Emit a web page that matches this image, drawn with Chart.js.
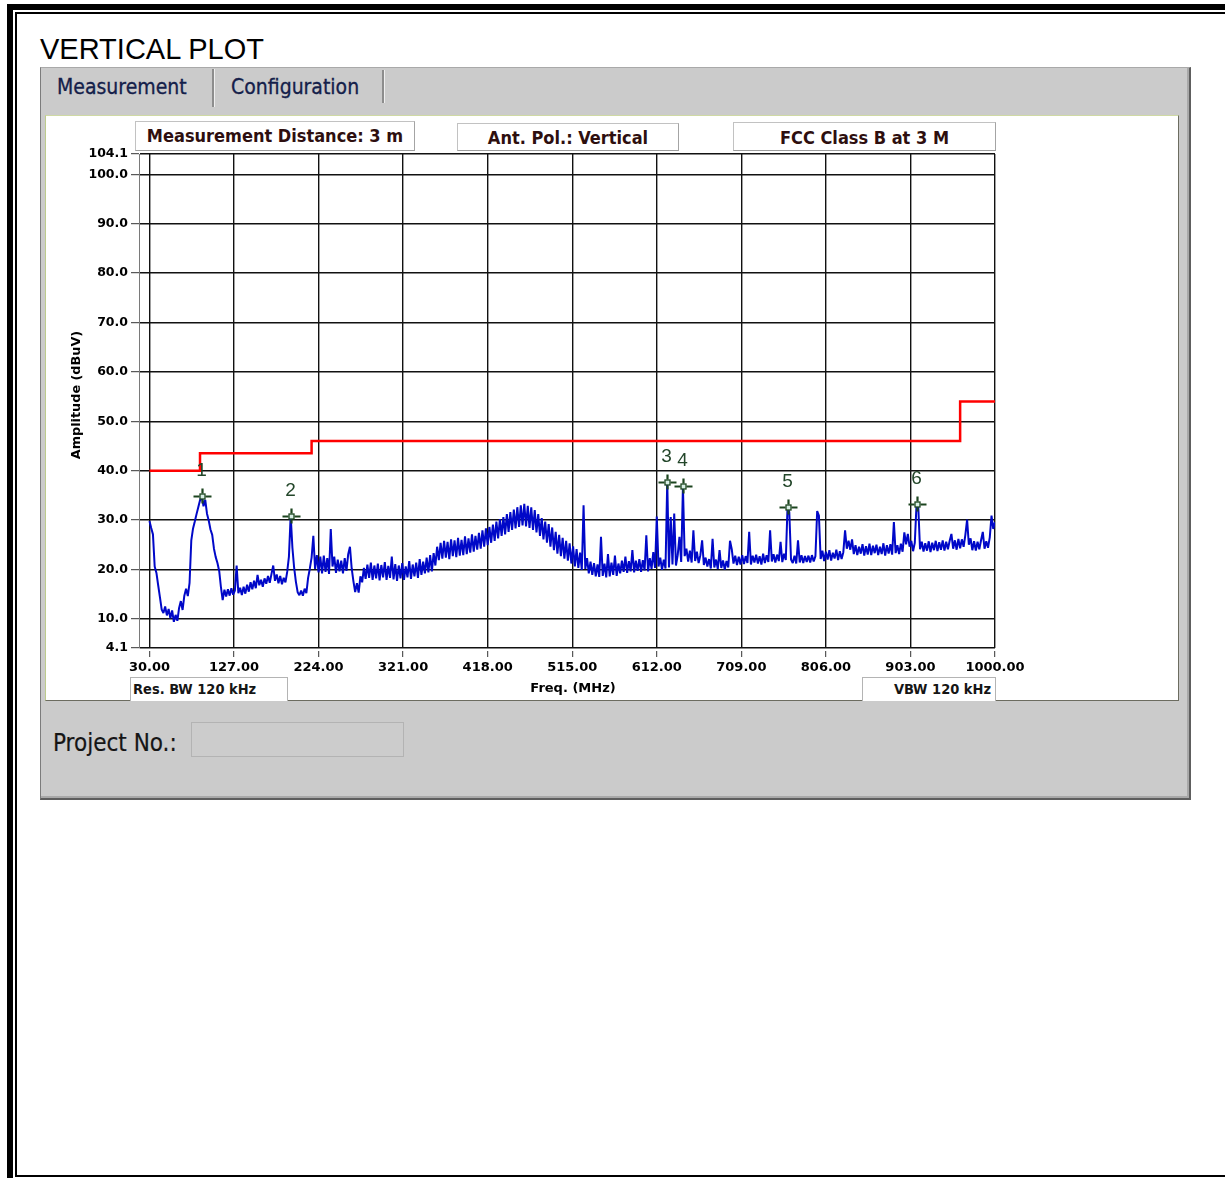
<!DOCTYPE html>
<html>
<head>
<meta charset="utf-8">
<title>VERTICAL PLOT</title>
<script src="https://cdn.jsdelivr.net/npm/chart.js@4.4.1/dist/chart.umd.min.js"></script>
<style>
  html, body { margin: 0; padding: 0; background: #ffffff; }
  body { width: 1225px; height: 1178px; position: relative; overflow: hidden; font-family: "DejaVu Sans", sans-serif; }
  .abs { position: absolute; box-sizing: border-box; }
  .frame { background: #000; }
  #title { left: 40px; top: 35px; font: 29px/29px "Liberation Sans", Arial, sans-serif; color: #000; white-space: nowrap; }
  #panel { left: 40px; top: 67px; width: 1151px; height: 733px; background: #cbcbcb;
           border-left: 1px solid #7c7c7c; border-top: 1px solid #a9a9a9;
           border-right: 2px solid #5e5e5e; border-bottom: 2px solid #5e5e5e;
           box-shadow: inset -2px -2px 0 #a9a9a9; }
  .tab { font: 21px/21px "DejaVu Sans Condensed", "DejaVu Sans", sans-serif; color: #14204a; white-space: nowrap;
         -webkit-text-stroke: 0.3px #14204a; }
  .sepDark { background: #8d8d8d; }
  .sepLight { background: #efefef; }
  #plotWrap { left: 45px; top: 115px; width: 1134px; height: 586px; background: #fff;
              border-left: 1px solid #bccb8c; border-top: 1px solid #cfd9a4;
              border-right: 1px solid #6c6c60; border-bottom: 1px solid #6c6c60; }
  #plotWrap canvas { display: block; }
  .hdr { background: #fff; text-align: center; white-space: nowrap;
         font-family: "DejaVu Sans Condensed", "DejaVu Sans", sans-serif; font-weight: bold; font-size: 18px; color: #2e0f0f;
         border: 1px solid #c2c2c2; border-right-color: #a4a4a4; border-bottom-color: #9c9c9c; }
  .bw { background: #fff; white-space: nowrap; font-family: "DejaVu Sans Condensed", "DejaVu Sans", sans-serif;
        font-size: 14.5px; font-weight: bold; color: #151515; border: 1px solid #b4b4b4; border-bottom: none; }
  .axTitle { font-family: "DejaVu Sans", sans-serif; font-weight: bold; color: #000; text-align: center; white-space: nowrap; }
  #projLbl { left: 53px; top: 731px; font: 24px/24px "DejaVu Sans Condensed", "DejaVu Sans", sans-serif; color: #151515; white-space: nowrap;
             -webkit-text-stroke: 0.2px #151515; }
  #projBox { left: 191px; top: 722px; width: 213px; height: 35px; background: #cccccc; border: 1px solid #b3b3b3; }
</style>
</head>
<body>
<!-- page frame -->
<div class="abs frame" style="left:7px;top:4px;width:6px;height:1174px;"></div>
<div class="abs frame" style="left:7px;top:4px;width:1218px;height:6px;"></div>
<div class="abs frame" style="left:15px;top:12px;width:2px;height:1165px;"></div>
<div class="abs frame" style="left:15px;top:12px;width:1210px;height:2px;"></div>
<div class="abs frame" style="left:15px;top:1175px;width:1210px;height:2px;"></div>

<div id="title" class="abs">VERTICAL PLOT</div>

<div id="panel" class="abs"></div>
<div class="abs tab" style="left:57px;top:77px;">Measurement</div>
<div class="abs tab" style="left:231px;top:77px;">Configuration</div>
<div class="abs sepDark" style="left:212px;top:69px;width:2px;height:38px;"></div>
<div class="abs sepLight" style="left:214px;top:69px;width:1px;height:38px;"></div>
<div class="abs sepDark" style="left:382px;top:70px;width:2px;height:33px;"></div>
<div class="abs sepLight" style="left:384px;top:70px;width:1px;height:33px;"></div>

<div id="plotWrap" class="abs"><canvas id="emiChart" width="1132" height="584"></canvas></div>

<div class="abs hdr" style="left:135px;top:121px;width:280px;height:30px;line-height:27px;">Measurement Distance: 3 m</div>
<div class="abs hdr" style="left:457px;top:123px;width:222px;height:28px;line-height:27.6px;">Ant. Pol.: Vertical</div>
<div class="abs hdr" style="left:733px;top:122px;width:263px;height:29px;line-height:29px;">FCC Class B at 3 M</div>

<div class="abs axTitle" style="left:-24.4px;top:386.5px;width:200px;height:16px;line-height:16px;font-size:12.8px;transform:rotate(-90deg);">Amplitude (dBuV)</div>
<div class="abs axTitle" style="left:473px;top:679.5px;width:200px;height:16px;line-height:16px;font-size:13px;">Freq. (MHz)</div>

<div class="abs bw" style="left:130px;top:677px;width:158px;height:24px;line-height:23.6px;padding-left:2px;">Res. BW 120 kHz</div>
<div class="abs bw" style="left:862px;top:677px;width:134px;height:24px;line-height:23.6px;text-align:right;padding-right:4px;">VBW 120 kHz</div>

<div id="projLbl" class="abs">Project No.:</div>
<div id="projBox" class="abs"></div>

<script>
// Axis tick positions (MHz / dBuV)
const xTickValues = [30, 127, 224, 321, 418, 515, 612, 709, 806, 903, 1000];
const yTickValues = [4.1, 10, 20, 30, 40, 50, 60, 70, 80, 90, 100, 104.1];

// FCC Class B limit at 3 m (step levels)
const limitFreq = [30, 88, 216, 960, 1000];
const limitLevel = [40, 43.5, 46, 54, 54];

// Peak markers
const markerNames = ['1', '2', '3', '4', '5', '6'];
const markerFreq = [90, 192, 624, 642, 762, 910];
const markerLevel = [34.9, 30.9, 37.8, 36.8, 32.7, 33.3];

// Peak-hold sweep: 30 MHz to 1000 MHz in 2 MHz bins (dBuV)
const sweepStartMHz = 30;
const sweepStepMHz = 2;
const traceLevel = [
  29.8, 28.4, 27.1, 20.6, 19.3, 16.8, 14.4, 11.9, 11.2, 12.5,   // 30
  10.7, 12.0, 10.1, 11.7, 9.4, 10.8, 9.6, 12.2, 13.6, 11.8,     // 50
  14.7, 16.1, 14.6, 17.3, 25.9, 28.3, 29.7, 31.2, 32.6, 34.0,   // 70
  34.9, 32.8, 34.1, 31.3, 29.9, 28.1, 27.0, 24.2, 22.5, 21.3,   // 90
  19.7, 16.4, 13.8, 15.9, 14.5, 16.0, 14.7, 16.2, 14.9, 15.7,   // 110
  20.8, 15.2, 16.3, 14.8, 16.5, 15.1, 16.9, 15.5, 17.4, 16.0,   // 130
  17.7, 16.2, 18.9, 16.8, 17.9, 16.5, 18.2, 17.1, 18.7, 17.3,   // 150
  19.1, 20.8, 17.7, 19.0, 17.2, 18.7, 17.0, 18.3, 17.4, 19.5,   // 170
  22.6, 30.9, 24.4, 20.3, 17.5, 15.4, 14.8, 15.7, 14.7, 16.1,   // 190
  15.2, 18.3, 20.2, 22.4, 26.8, 20.1, 22.9, 19.4, 22.6, 19.2,   // 210
  22.8, 19.5, 22.3, 19.1, 28.2, 20.6, 22.6, 19.3, 22.0, 19.6,   // 230
  21.8, 19.2, 22.3, 19.7, 23.1, 24.6, 20.2, 17.6, 15.4, 17.2,   // 250
  15.3, 18.6, 17.4, 20.3, 18.1, 21.0, 18.3, 21.4, 17.9, 20.8,   // 270
  18.2, 21.2, 17.8, 20.9, 18.4, 21.5, 17.9, 20.7, 18.3, 22.6,   // 290
  18.0, 21.1, 17.7, 20.8, 18.2, 21.3, 17.9, 20.6, 18.4, 21.7,   // 310
  18.1, 21.0, 18.6, 21.4, 18.3, 22.1, 18.9, 21.6, 19.2, 22.4,   // 330
  19.4, 22.9, 19.6, 23.3, 20.8, 24.6, 21.9, 25.4, 22.2, 25.8,   // 350
  22.4, 25.6, 22.1, 26.1, 22.7, 25.9, 22.5, 26.4, 22.8, 26.0,   // 370
  22.9, 26.7, 23.1, 26.3, 23.4, 27.1, 23.6, 26.8, 24.0, 27.4,   // 390
  24.2, 27.9, 24.6, 28.3, 24.9, 28.6, 25.4, 29.1, 25.8, 29.7,   // 410
  26.3, 30.2, 26.8, 30.6, 27.1, 31.2, 27.6, 31.6, 28.0, 32.1,   // 430
  28.3, 32.6, 28.6, 33.0, 28.9, 33.3, 28.7, 32.9, 28.4, 32.6,   // 450
  28.0, 32.0, 27.5, 31.2, 26.8, 30.4, 26.1, 29.7, 25.4, 29.2,   // 470
  24.6, 28.5, 23.9, 27.6, 23.2, 27.0, 22.7, 26.4, 22.2, 25.8,   // 490
  21.8, 25.3, 21.2, 24.7, 20.6, 24.1, 20.3, 23.4, 19.9, 33.0,   // 510
  20.1, 22.3, 19.2, 21.6, 18.9, 21.3, 18.6, 21.0, 18.5, 26.6,   // 530
  18.7, 21.2, 18.4, 23.1, 18.6, 21.4, 18.9, 22.8, 18.7, 21.2,   // 550
  19.2, 21.8, 19.5, 22.6, 19.3, 21.7, 19.6, 23.9, 19.4, 21.8,   // 570
  19.7, 22.1, 19.5, 21.9, 19.8, 26.9, 19.6, 22.3, 20.1, 23.5,   // 590
  20.3, 30.7, 20.6, 22.4, 19.9, 22.0, 20.2, 37.8, 20.4, 30.6,   // 610
  21.0, 31.3, 20.8, 22.9, 26.6, 21.5, 36.8, 22.7, 24.2, 21.6,   // 630
  23.8, 21.4, 27.9, 21.7, 23.6, 21.3, 22.9, 25.9, 20.9, 22.4,   // 650
  20.6, 22.1, 20.2, 26.2, 20.4, 22.0, 20.1, 23.9, 20.3, 21.8,   // 670
  20.0, 21.7, 20.4, 25.8, 24.1, 21.2, 22.8, 20.9, 22.6, 21.0,   // 690
  22.9, 21.1, 22.7, 21.3, 27.6, 21.0, 22.8, 21.4, 23.0, 21.2,   // 710
  22.7, 21.0, 23.2, 21.3, 22.9, 21.5, 27.9, 21.6, 23.1, 21.4,   // 730
  23.0, 21.7, 25.6, 21.5, 23.2, 21.9, 32.7, 31.6, 22.0, 21.3,   // 750
  22.8, 21.2, 25.9, 21.4, 22.9, 21.3, 22.7, 21.5, 22.8, 21.4,   // 770
  22.9, 21.6, 22.7, 31.8, 30.9, 22.1, 23.8, 21.7, 23.6, 22.0,   // 790
  23.9, 21.8, 23.4, 22.2, 24.0, 21.9, 23.7, 22.1, 23.5, 27.9,   // 810
  24.2, 25.8, 24.0, 26.1, 23.1, 24.9, 22.9, 24.6, 23.2, 25.1,   // 830
  22.8, 24.7, 23.0, 25.2, 22.9, 24.8, 23.3, 25.0, 22.9, 24.6,   // 850
  23.1, 25.3, 22.8, 24.9, 23.2, 25.1, 23.0, 29.6, 23.3, 24.9,   // 870
  23.1, 25.2, 23.6, 27.5, 25.1, 27.2, 24.6, 25.8, 23.7, 25.4,   // 890
  33.3, 32.6, 24.1, 25.6, 23.6, 25.3, 23.8, 25.7, 23.5, 25.4,   // 910
  23.9, 25.8, 23.7, 25.5, 24.0, 25.9, 23.8, 25.6, 24.1, 25.8,   // 930
  27.2, 24.2, 25.9, 24.0, 26.2, 24.3, 26.1, 24.6, 27.0, 30.1,   // 950
  25.0, 26.3, 23.9, 25.7, 23.8, 25.6, 24.1, 25.9, 27.6, 24.2,   // 970
  25.7, 24.4, 26.5, 30.9, 28.2, 29.6                            // 990
];

const tracePoints = traceLevel.map((v, i) => ({ x: sweepStartMHz + i * sweepStepMHz, y: v }));
const limitPoints = limitFreq.map((f, i) => ({ x: f, y: limitLevel[i] }));
const markerPoints = markerFreq.map((f, i) => ({ x: f, y: markerLevel[i] }));

// Crosshair symbols with their index numbers above each peak
const peakMarkerPlugin = {
  id: 'peakMarkers',
  afterDatasetsDraw(chart) {
    const meta = chart.getDatasetMeta(2);
    const ctx = chart.ctx;
    ctx.save();
    meta.data.forEach((pt, i) => {
      const cx = Math.round(pt.x) + 0.5;
      const cy = Math.round(pt.y) + 0.5;
      ctx.strokeStyle = '#1c451f';
      ctx.lineWidth = 2.2;
      ctx.beginPath();
      ctx.moveTo(cx - 9, cy); ctx.lineTo(cx - 3, cy);
      ctx.moveTo(cx + 3, cy); ctx.lineTo(cx + 9, cy);
      ctx.moveTo(cx, cy - 8); ctx.lineTo(cx, cy - 3);
      ctx.moveTo(cx, cy + 3); ctx.lineTo(cx, cy + 7);
      ctx.stroke();
      ctx.fillStyle = '#d9efe6';
      ctx.fillRect(cx - 2.5, cy - 2.5, 5, 5);
      ctx.lineWidth = 1.3;
      ctx.strokeRect(cx - 2.5, cy - 2.5, 5, 5);
      ctx.fillStyle = '#23462a';
      ctx.font = '19px "Liberation Sans", Arial, sans-serif';
      ctx.textAlign = 'center';
      ctx.textBaseline = 'alphabetic';
      ctx.fillText(markerNames[i], cx - 1, cy - 21);
    });
    ctx.restore();
  }
};

new Chart(document.getElementById('emiChart'), {
  type: 'line',
  data: {
    datasets: [
      {
        label: 'Peak',
        data: tracePoints,
        borderColor: '#0008c8',
        borderWidth: 2,
        borderJoinStyle: 'bevel',
        pointRadius: 0,
        tension: 0,
        fill: false
      },
      {
        label: 'FCC Class B',
        data: limitPoints,
        borderColor: '#ff0000',
        borderWidth: 2.5,
        pointRadius: 0,
        stepped: 'before',
        fill: false
      },
      {
        label: 'Markers',
        data: markerPoints,
        showLine: false,
        pointRadius: 0,
        borderColor: '#1f4a22'
      }
    ]
  },
  options: {
    responsive: false,
    animation: false,
    devicePixelRatio: 1,
    events: [],
    layout: { autoPadding: false, padding: { top: 38, right: 183, left: 0, bottom: 0 } },
    plugins: { legend: { display: false }, tooltip: { enabled: false } },
    scales: {
      x: {
        type: 'linear',
        position: 'bottom',
        min: 18,
        max: 1000,
        afterBuildTicks(scale) { scale.ticks = xTickValues.map(v => ({ value: v })); },
        afterFit(scale) { scale.height = 52; scale.paddingLeft = 0; scale.paddingRight = 0; },
        ticks: {
          autoSkip: false,
          maxRotation: 0,
          padding: 3,
          color: '#000',
          font: { family: 'DejaVu Sans', weight: 'bold', size: 13 },
          callback: v => Number(v).toFixed(2)
        },
        grid: {
          color: '#111',
          lineWidth: 1.4,
          tickLength: 9,
          tickColor: '#333',
          tickWidth: 1,
          tickBorderDash: [6, 3],
          tickBorderDashOffset: 6
        },
        border: { display: false }
      },
      y: {
        type: 'linear',
        min: 4.1,
        max: 104.1,
        afterBuildTicks(scale) { scale.ticks = yTickValues.map(v => ({ value: v })); },
        afterFit(scale) { scale.width = 93; scale.paddingTop = 0; scale.paddingBottom = 0; },
        ticks: {
          autoSkip: false,
          padding: 3,
          color: '#000',
          font: { family: 'DejaVu Sans', weight: 'bold', size: 12.5 },
          callback: v => Number(v).toFixed(1)
        },
        grid: {
          color: '#111',
          lineWidth: 1.4,
          tickLength: 8,
          tickColor: '#333',
          tickWidth: 1
        },
        border: { display: true, color: '#7a7a7a', width: 1 }
      }
    }
  },
  plugins: [peakMarkerPlugin]
});
</script>
</body>
</html>
